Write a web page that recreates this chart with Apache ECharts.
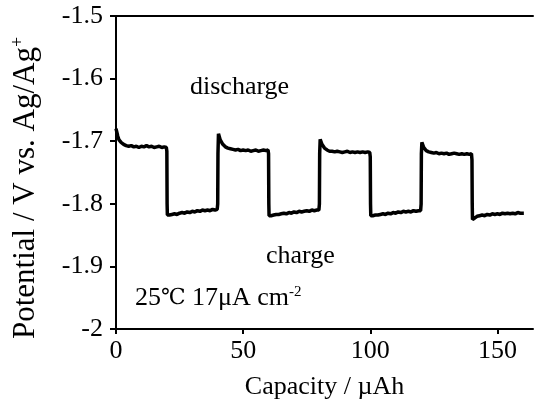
<!DOCTYPE html>
<html>
<head>
<meta charset="utf-8">
<script src="https://cdn.jsdelivr.net/npm/echarts@6/dist/echarts.min.js"></script>
<style>
  html, body { margin: 0; padding: 0; background: #fff; }
  #chart { width: 534px; height: 407px; }
</style>
</head>
<body>
<div id="chart"></div>
<script>
// Galvanostatic cycling: capacity (µAh) vs potential (V vs. Ag/Ag+)
const capacity = [
  0, 0.3, 0.7, 1.2, 2, 3, 4, 5, 6, 7, 8, 9, 10, 11, 12, 13, 14, 15, 16, 17, 18, 19, 19.8, 20.0, 20.1, 20.2,
  20.3, 21, 22, 23, 24, 25, 26, 27, 28, 29, 30, 31, 32, 33, 34, 35, 36, 37, 38, 39, 39.8, 40.0, 40.1, 40.3,
  40.5, 41, 42, 43, 44, 45, 46, 47, 48, 49, 50, 51, 52, 53, 54, 55, 56, 57, 58, 59, 59.8, 60.0, 60.1, 60.2,
  60.3, 61, 62, 63, 64, 65, 66, 67, 68, 69, 70, 71, 72, 73, 74, 75, 76, 77, 78, 79, 79.8, 80.0, 80.1, 80.3,
  80.5, 81, 82, 83, 84, 85, 86, 87, 88, 89, 90, 91, 92, 93, 94, 95, 96, 97, 98, 99, 99.8, 100.0, 100.1, 100.2,
  100.3, 101, 102, 103, 104, 105, 106, 107, 108, 109, 110, 111, 112, 113, 114, 115, 116, 117, 118, 119, 119.8, 120.0, 120.1, 120.3,
  120.5, 121, 122, 123, 124, 125, 126, 127, 128, 129, 130, 131, 132, 133, 134, 135, 136, 137, 138, 139, 139.8, 140.0, 140.1, 140.2,
  140.3, 141, 142, 143, 144, 145, 146, 147, 148, 149, 150, 151, 152, 153, 154, 155, 156, 157, 158, 159, 160, 160.4
];
const potential = [
  -1.680, -1.685, -1.692, -1.698, -1.702, -1.705, -1.707, -1.708, -1.707, -1.709, -1.708, -1.710, -1.708, -1.709, -1.707, -1.709, -1.708, -1.710, -1.709, -1.708, -1.710, -1.709, -1.710, -1.716, -1.800, -1.818,
  -1.820, -1.818, -1.817, -1.816, -1.817, -1.815, -1.814, -1.815, -1.813, -1.814, -1.812, -1.813, -1.811, -1.812, -1.810, -1.811, -1.810, -1.811, -1.809, -1.810, -1.809, -1.800, -1.720, -1.688,
  -1.690, -1.698, -1.705, -1.709, -1.711, -1.712, -1.713, -1.714, -1.713, -1.715, -1.714, -1.715, -1.714, -1.716, -1.715, -1.714, -1.716, -1.715, -1.714, -1.715, -1.714, -1.720, -1.800, -1.819,
  -1.821, -1.819, -1.818, -1.817, -1.817, -1.816, -1.815, -1.816, -1.814, -1.815, -1.813, -1.814, -1.812, -1.813, -1.812, -1.811, -1.812, -1.810, -1.811, -1.810, -1.810, -1.800, -1.720, -1.697,
  -1.699, -1.705, -1.711, -1.714, -1.716, -1.716, -1.717, -1.716, -1.717, -1.718, -1.717, -1.716, -1.718, -1.717, -1.718, -1.717, -1.718, -1.717, -1.718, -1.717, -1.718, -1.725, -1.800, -1.819,
  -1.820, -1.819, -1.818, -1.818, -1.817, -1.816, -1.817, -1.815, -1.816, -1.814, -1.815, -1.813, -1.814, -1.812, -1.813, -1.812, -1.813, -1.811, -1.812, -1.811, -1.811, -1.800, -1.720, -1.702,
  -1.704, -1.710, -1.715, -1.717, -1.718, -1.719, -1.718, -1.720, -1.719, -1.720, -1.719, -1.721, -1.720, -1.719, -1.720, -1.721, -1.720, -1.721, -1.720, -1.721, -1.720, -1.730, -1.800, -1.825,
  -1.826, -1.823, -1.820, -1.819, -1.818, -1.819, -1.817, -1.818, -1.816, -1.817, -1.816, -1.817, -1.815, -1.816, -1.815, -1.816, -1.815, -1.816, -1.814, -1.815, -1.815, -1.815
];
const xTicks = [0, 50, 100, 150];
const yRange = [-2, -1.5];
const xRange = [0, 164];

const FONT = '"Liberation Serif", "Times New Roman", serif';
const FS = 26;
const chart = echarts.init(document.getElementById('chart'), null, { renderer: 'canvas' });

const points = capacity.map((c, i) => [c, potential[i]]);

chart.setOption({
  animation: false,
  backgroundColor: '#fff',
  grid: { left: 116, right: 1, top: 16, bottom: 78, containLabel: false },
  xAxis: [{
    type: 'value',
    min: xRange[0], max: xRange[1],
    name: 'Capacity / µAh',
    nameLocation: 'middle',
    nameGap: 45,
    nameTextStyle: { fontFamily: FONT, fontSize: FS, color: '#000' },
    axisLine: { show: true, lineStyle: { color: '#000', width: 2 } },
    axisTick: { show: true, length: 5, lineStyle: { color: '#000', width: 2 }, customValues: xTicks },
    axisLabel: { fontFamily: FONT, fontSize: FS, color: '#000', margin: 9, customValues: xTicks },
    splitLine: { show: false }
  }, {
    type: 'value',
    position: 'top',
    min: xRange[0], max: xRange[1],
    axisLine: { show: true, onZero: false, lineStyle: { color: '#000', width: 2 } },
    axisTick: { show: false },
    axisLabel: { show: false },
    splitLine: { show: false }
  }],
  yAxis: {
    type: 'value',
    min: yRange[0], max: yRange[1], interval: 0.1,
    axisLine: { show: true, onZero: false, lineStyle: { color: '#000', width: 2 } },
    axisTick: { show: true, length: 6, lineStyle: { color: '#000', width: 2 } },
    axisLabel: {
      fontFamily: FONT, fontSize: FS, color: '#000', margin: 13,
      formatter: v => String(Math.round(v * 10) / 10)
    },
    splitLine: { show: false }
  },
  graphic: [
    {
      // vertical axis title
      type: 'text', x: 26, y: 188, rotation: Math.PI / 2,
      style: {
        text: 'Potential / V vs. Ag/Ag{sup|+}',
        fontFamily: FONT, fontSize: 31, fill: '#000',
        align: 'center', verticalAlign: 'middle',
        rich: { sup: { fontFamily: FONT, fontSize: 18, fill: '#000', verticalAlign: 'top', padding: [0, 0, 15, 0] } }
      }
    },
    { type: 'text', left: 190, top: 74, style: { text: 'discharge', font: FS + 'px ' + FONT, fill: '#000' } },
    { type: 'text', left: 266, top: 243, style: { text: 'charge', font: FS + 'px ' + FONT, fill: '#000' } },
    {
      type: 'text', left: 135, top: 285,
      style: {
        text: '{t|25}{c|℃}{t| 17μA cm}{s|-2}',
        rich: {
          t: { fontFamily: FONT, fontSize: 26, fill: '#000' },
          c: { fontFamily: '"DejaVu Serif", serif', fontSize: 22, fill: '#000' },
          s: { fontFamily: FONT, fontSize: 15, fill: '#000', verticalAlign: 'top', padding: [0, 0, 12, 0] }
        }
      }
    }
  ],
  series: [{
    type: 'line',
    data: points,
    showSymbol: false,
    symbol: 'none',
    clip: true,
    lineStyle: { color: '#000', width: 3.5 }
  }]
});
</script>
</body>
</html>
